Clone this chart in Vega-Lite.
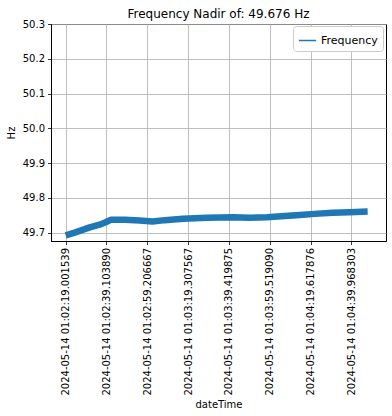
{
  "$schema": "https://vega.github.io/schema/vega-lite/v6.json",
  "autosize": {"type": "none"},
  "padding": {"left": 51, "top": 24, "right": 6, "bottom": 175},
  "width": 335,
  "height": 217,
  "background": "white",
  "title": {"text": "Frequency Nadir of: 49.676 Hz", "fontSize": 12, "fontWeight": "normal", "font": "DejaVu Sans", "anchor": "middle", "offset": -2, "color": "black"},
  "config": {
    "font": "DejaVu Sans",
    "view": {"stroke": "black", "strokeWidth": 1},
    "axis": {
      "labelFont": "DejaVu Sans", "labelFontSize": 10, "labelColor": "black",
      "titleFont": "DejaVu Sans", "titleFontSize": 10, "titleFontWeight": "normal", "titleColor": "black",
      "domainColor": "black", "domainWidth": 1,
      "tickColor": "black", "tickSize": 3.5, "tickWidth": 0.8,
      "gridColor": "#b0b0b0", "gridWidth": 0.8, "gridOpacity": 1,
      "labelPadding": 3
    }
  },
  "data": {
    "values": [
      {"i": 0.00, "f": 49.692},
      {"i": 0.22, "f": 49.700},
      {"i": 0.59, "f": 49.715},
      {"i": 0.83, "f": 49.723},
      {"i": 0.98, "f": 49.730},
      {"i": 1.10, "f": 49.737},
      {"i": 1.45, "f": 49.737},
      {"i": 1.81, "f": 49.735},
      {"i": 2.13, "f": 49.732},
      {"i": 2.43, "f": 49.736},
      {"i": 2.87, "f": 49.740},
      {"i": 3.46, "f": 49.743},
      {"i": 4.09, "f": 49.744},
      {"i": 4.51, "f": 49.743},
      {"i": 4.93, "f": 49.744},
      {"i": 5.37, "f": 49.748},
      {"i": 5.74, "f": 49.751},
      {"i": 6.10, "f": 49.754},
      {"i": 6.54, "f": 49.757},
      {"i": 6.96, "f": 49.759},
      {"i": 7.40, "f": 49.761}
    ]
  },
  "mark": {"type": "line", "strokeWidth": 6.5, "strokeJoin": "round", "strokeCap": "butt"},
  "encoding": {
    "x": {
      "field": "i", "type": "quantitative",
      "scale": {"domain": [-0.36, 7.85], "nice": false, "zero": false},
      "axis": {
        "title": "dateTime",
        "values": [0, 1, 2, 3, 4, 5, 6, 7],
        "labelAngle": -90,
        "labelExpr": "['2024-05-14 01:02:19.001539','2024-05-14 01:02:39.103890','2024-05-14 01:02:59.206667','2024-05-14 01:03:19.307567','2024-05-14 01:03:39.419875','2024-05-14 01:03:59.519090','2024-05-14 01:04:19.617876','2024-05-14 01:04:39.968303'][datum.value]",
        "titlePadding": 4
      }
    },
    "y": {
      "field": "f", "type": "quantitative",
      "scale": {"domain": [49.676, 50.3], "nice": false, "zero": false},
      "axis": {"title": "Hz", "values": [49.7, 49.8, 49.9, 50.0, 50.1, 50.2, 50.3], "format": ".1f", "titlePadding": 6}
    },
    "color": {
      "datum": "Frequency",
      "scale": {"range": ["#1f77b4"]},
      "legend": {
        "title": null, "orient": "none", "legendX": 242, "legendY": 2,
        "symbolType": "stroke", "symbolStrokeWidth": 1.5, "symbolSize": 300,
        "labelFontSize": 11, "labelFont": "DejaVu Sans", "labelColor": "black",
        "strokeColor": "#cccccc", "fillColor": "white", "cornerRadius": 3, "padding": 5
      }
    }
  }
}
